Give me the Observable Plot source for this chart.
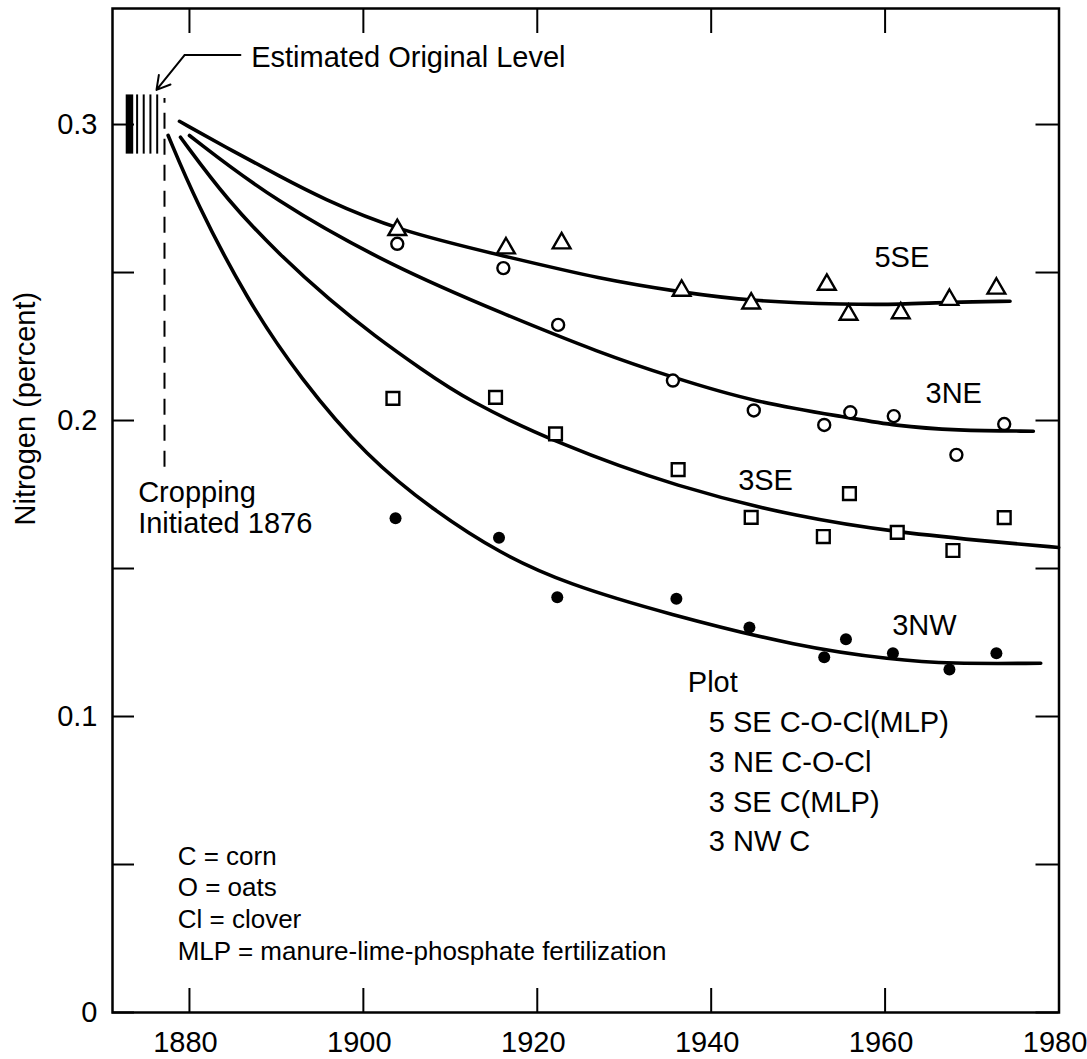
<!DOCTYPE html>
<html><head><meta charset="utf-8">
<script src="https://cdn.jsdelivr.net/npm/d3@7"></script>
<script src="https://cdn.jsdelivr.net/npm/@observablehq/plot@0.6"></script>
<style>html,body{margin:0;padding:0;background:#fff} #chart svg{display:block}</style>
</head><body><div id="chart"></div>
<script>
// ---- data ----
// observed points: year, nitrogen (percent)
const yr5SE = [1903.9, 1916.4, 1922.8, 1936.6, 1944.6, 1953.3, 1955.8, 1961.8, 1967.4, 1972.8];
const n5SE  = [0.2644, 0.2582, 0.2599, 0.2439, 0.2396, 0.2459, 0.2358, 0.2363, 0.2408, 0.2446];
const yr3NE = [1903.9, 1916.1, 1922.4, 1935.6, 1944.9, 1953.0, 1956.0, 1961.0, 1968.2, 1973.7];
const n3NE  = [0.2597, 0.2515, 0.2323, 0.2135, 0.2034, 0.1985, 0.2028, 0.2015, 0.1884, 0.1988];
const yr3SE = [1903.4, 1915.2, 1922.1, 1936.2, 1944.6, 1952.9, 1955.9, 1961.4, 1967.8, 1973.7];
const n3SE  = [0.2075, 0.2078, 0.1955, 0.1834, 0.1673, 0.1608, 0.1753, 0.1622, 0.1561, 0.1672];
const yr3NW = [1903.7, 1915.6, 1922.3, 1936.0, 1944.4, 1953.0, 1955.5, 1960.9, 1967.4, 1972.8];
const n3NW  = [0.1670, 0.1604, 0.1403, 0.1398, 0.1301, 0.1200, 0.1261, 0.1214, 0.1159, 0.1214];

// fitted curves
const cyr5SE = [1878.85, 1885.06, 1890.46, 1895.06, 1903.87, 1916.40, 1927.24, 1936.63, 1944.60, 1955.75, 1961.72, 1967.44, 1974.37];
const cn5SE  = [0.3011, 0.2909, 0.2824, 0.2753, 0.2642, 0.2554, 0.2478, 0.2433, 0.2403, 0.2392, 0.2392, 0.2400, 0.2403];
const cyr3NE = [1880.0, 1889.69, 1903.48, 1916.13, 1927.24, 1935.55, 1944.94, 1956.01, 1960.95, 1968.16, 1977.05];
const cn3NE  = [0.2963, 0.2743, 0.2518, 0.2360, 0.2228, 0.2146, 0.2062, 0.2009, 0.1983, 0.1966, 0.1964];
const cyr3SE = [1878.97, 1884.37, 1890.46, 1896.21, 1901.38, 1906.56, 1911.96, 1922.33, 1936.13, 1950.28, 1961.44, 1973.29, 1979.96];
const cn3SE  = [0.2957, 0.2743, 0.2557, 0.2405, 0.2284, 0.2176, 0.2068, 0.1922, 0.1774, 0.1672, 0.1622, 0.1588, 0.1571];
const cyr3NW = [1877.55, 1880.69, 1886.67, 1892.76, 1900.43, 1908.08, 1915.75, 1923.41, 1934.91, 1950.23, 1960.89, 1967.44, 1977.90];
const cn3NW  = [0.2963, 0.2743, 0.2405, 0.2141, 0.1876, 0.1696, 0.1550, 0.1448, 0.1347, 0.1234, 0.1192, 0.1178, 0.1180];

// estimated original level and cropping start
const origThick = [1873.1];
const origThin = [1873.98, 1874.74, 1875.51, 1876.29];
const origRange = [0.290, 0.310];
const croppingYear = [1877.13];
const croppingRange = [0.1842, 0.3088];

// ticks
const xTicks = [1880, 1900, 1920, 1940, 1960, 1980];
const yMinorTicks = [0, 0.05, 0.1, 0.15, 0.2, 0.25, 0.3];
const yLabelTicks = [0, 0.1, 0.2, 0.3];

// labels
const curveLabels = ["5SE", "3NE", "3SE", "3NW"];
const curveLabelX = [1958.78, 1964.65, 1943.10, 1960.82];
const curveLabelY = [0.2517, 0.2058, 0.1764, 0.1277];
const plotLegend = ["Plot", "5 SE C-O-Cl(MLP)", "3 NE C-O-Cl", "3 SE C(MLP)", "3 NW C"];
const plotLegendX = [1937.31, 1939.72, 1939.72, 1939.72, 1939.72];
const plotLegendY = [0.1082, 0.0947, 0.0812, 0.0679, 0.0545];
const keyLines = ["C = corn", "O = oats", "Cl = clover", "MLP = manure-lime-phosphate fertilization"];
const keyX = 1878.65;
const keyY = [0.0500, 0.0395, 0.0285, 0.0178];
const cropLines = ["Cropping", "Initiated 1876"];
const cropX = 1874.10;
const cropY = [0.1724, 0.1621];
const estLabel = "Estimated Original Level";
const estLabelPos = [1887.10, 0.3196];
const estPointer = [[1885.86, 0.3235], [1879.46, 0.3235], [1876.21, 0.3117]];

// ---- build ----
const zip = (xs, ys) => xs.map((x, i) => ({x, y: ys[i]}));
const W = 1087, H = 1059, mL = 112, mR = 28.5, mT = 8, mB = 47;
const iw = W - mL - mR, ih = H - mT - mB;

const curves = [[cyr5SE, cn5SE], [cyr3NE, cn3NE], [cyr3SE, cn3SE], [cyr3NW, cn3NW]];
const font = "'Liberation Sans', Arial, Helvetica, sans-serif";

const chart = Plot.plot({
  width: W, height: H,
  marginLeft: mL, marginRight: mR, marginTop: mT, marginBottom: mB,
  style: {fontFamily: font, fontSize: "29px", color: "black", background: "white"},
  x: {domain: [1871.15, 1980], label: null},
  y: {domain: [0, 0.3392], label: null},
  marks: [
    // ticks (inward)
    Plot.ruleX(xTicks, {x: d => d, insetTop: ih - 24, strokeWidth: 2}),
    Plot.ruleX(xTicks, {x: d => d, insetBottom: ih - 25, strokeWidth: 2}),
    Plot.ruleY(yMinorTicks, {y: d => d, insetRight: iw - 22, strokeWidth: 2}),
    Plot.ruleY(yMinorTicks, {y: d => d, insetLeft: iw - 23, strokeWidth: 2}),
    Plot.axisX({ticks: xTicks, tickSize: 0, tickPadding: 19, tickFormat: d => String(d), dx: -4, label: null}),
    Plot.axisY({ticks: yLabelTicks, tickSize: 0, tickPadding: 15, tickFormat: d => d === 0 ? "0" : d.toFixed(1), label: null}),
    Plot.text(["Nitrogen (percent)"], {frameAnchor: "left", rotate: -90, dx: -87, dy: 15, fontSize: 29}),
    // estimated original level
    Plot.ruleX(origThick, {x: d => d, y1: origRange[0], y2: origRange[1], strokeWidth: 7.5}),
    Plot.ruleX(origThin, {x: d => d, y1: origRange[0], y2: origRange[1], strokeWidth: 2}),
    Plot.ruleX(croppingYear, {x: d => d, y1: croppingRange[0], y2: croppingRange[1], strokeWidth: 2, strokeDasharray: "16,10"}),
    Plot.line(estPointer.slice(0, 2), {x: d => d[0], y: d => d[1], strokeWidth: 2}),
    Plot.arrow([estPointer.slice(1)], {x1: d => d[0][0], y1: d => d[0][1], x2: d => d[1][0], y2: d => d[1][1], strokeWidth: 2, headLength: 14, bend: 0}),
    Plot.text([estLabel], {x: estLabelPos[0], y: estLabelPos[1], textAnchor: "start", lineAnchor: "bottom", fontSize: 29}),
    Plot.text(cropLines, {x: cropX, y: (d, i) => cropY[i], textAnchor: "start", lineAnchor: "bottom", fontSize: 29}),
    // curves
    ...curves.map(([xs, ys]) => Plot.line(zip(xs, ys), {x: "x", y: "y", curve: "basis", strokeWidth: 3.6})),
    // points
    Plot.dot(zip(yr5SE, n5SE), {x: "x", y: "y", symbol: "triangle", r: 6.6, stroke: "black", strokeWidth: 2.4, fill: "white"}),
    Plot.dot(zip(yr3NE, n3NE), {x: "x", y: "y", symbol: "circle", r: 6, stroke: "black", strokeWidth: 2.4, fill: "white"}),
    Plot.dot(zip(yr3SE, n3SE), {x: "x", y: "y", symbol: "square", r: 7.2, stroke: "black", strokeWidth: 2.4, fill: "white"}),
    Plot.dot(zip(yr3NW, n3NW), {x: "x", y: "y", symbol: "circle", r: 6, fill: "black", stroke: "none"}),
    // labels
    Plot.text(curveLabels, {x: (d, i) => curveLabelX[i], y: (d, i) => curveLabelY[i], textAnchor: "start", lineAnchor: "bottom", fontSize: 29}),
    Plot.text(plotLegend, {x: (d, i) => plotLegendX[i], y: (d, i) => plotLegendY[i], textAnchor: "start", lineAnchor: "bottom", fontSize: 29}),
    Plot.text(keyLines, {x: keyX, y: (d, i) => keyY[i], textAnchor: "start", lineAnchor: "bottom", fontSize: 26}),
    Plot.frame({stroke: "black", strokeWidth: 2.5})
  ]
});
document.getElementById("chart").appendChild(chart);
</script></body></html>
